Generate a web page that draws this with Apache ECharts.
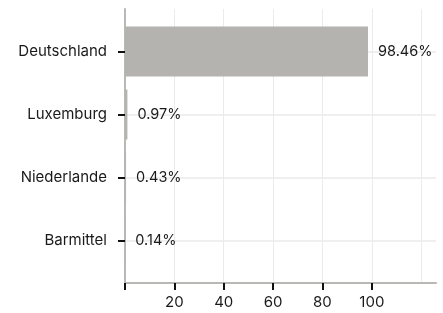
<!DOCTYPE html>
<html>
<head>
<meta charset="utf-8">
<script src="https://cdn.jsdelivr.net/npm/echarts@6/dist/echarts.min.js"></script>
<style>
  html, body { margin: 0; padding: 0; background: #fff; }
  #chart { width: 443px; height: 313px; }
</style>
</head>
<body>
<div id="chart"></div>
<script>
const categories = ["Deutschland", "Luxemburg", "Niederlande", "Barmittel"];
const shares = [98.46, 0.97, 0.43, 0.14];
const xTicks = [0, 20, 40, 60, 80, 100];
const xTickLabels = [20, 40, 60, 80, 100];
const xGrid = [20, 40, 60, 80, 100, 120];
const catPositions = [1, 2, 3, 4];

const chart = echarts.init(document.getElementById("chart"));
const font = "Inter";
const textColor = "#1a1a1a";
const axisGray = "#b9b8b4";

const option = {
  animation: false,
  grid: [
    // visible axes
    { left: 125, right: 7, top: 9, bottom: 30 },
    // bars, band centres line up with the category ticks
    { left: 125, right: 7, top: 20, height: 252 },
  ],
  xAxis: [
    {
      gridIndex: 0,
      type: "value",
      position: "bottom",
      min: 0,
      max: 126,
      axisLine: { show: false },
      axisTick: { show: false, customValues: xGrid },
      axisLabel: { show: false, customValues: xGrid },
      splitLine: { show: true, lineStyle: { color: "#ebebeb", width: 1 } },
    },
    {
      gridIndex: 0,
      type: "value",
      position: "bottom",
      min: 0,
      max: 126,
      axisLine: { show: true, lineStyle: { color: axisGray, width: 2 } },
      axisTick: {
        show: true,
        customValues: xTicks,
        length: 7,
        lineStyle: { color: "#111", width: 2 },
      },
      axisLabel: {
        customValues: xTickLabels,
        margin: 12,
        color: textColor,
        fontFamily: font,
        fontSize: 15,
      },
      splitLine: { show: false },
    },
    {
      gridIndex: 1,
      type: "value",
      min: 0,
      max: 126,
      show: false,
    },
  ],
  yAxis: [
    {
      gridIndex: 0,
      type: "value",
      inverse: true,
      min: 0.33,
      max: 4.67,
      axisLine: { show: true, lineStyle: { color: axisGray, width: 2 } },
      axisTick: {
        show: true,
        customValues: catPositions,
        length: 7,
        lineStyle: { color: "#111", width: 2 },
      },
      axisLabel: {
        customValues: catPositions,
        formatter: (v) => categories[Math.round(v) - 1] || "",
        margin: 18,
        color: textColor,
        fontFamily: font,
        fontSize: 15,
      },
      splitLine: { show: true, lineStyle: { color: "#efefef", width: 2 } },
    },
    {
      gridIndex: 1,
      type: "category",
      inverse: true,
      data: categories,
      show: false,
    },
  ],
  series: [
    {
      type: "bar",
      xAxisIndex: 2,
      yAxisIndex: 1,
      data: shares,
      barWidth: 50,
      itemStyle: { color: "#b4b3af" },
      label: {
        show: true,
        position: "right",
        distance: 10,
        formatter: (p) => p.value.toFixed(2) + "%",
        color: textColor,
        fontFamily: font,
        fontSize: 14.5,
      },
    },
  ],
};

chart.setOption(option);
</script>
</body>
</html>
